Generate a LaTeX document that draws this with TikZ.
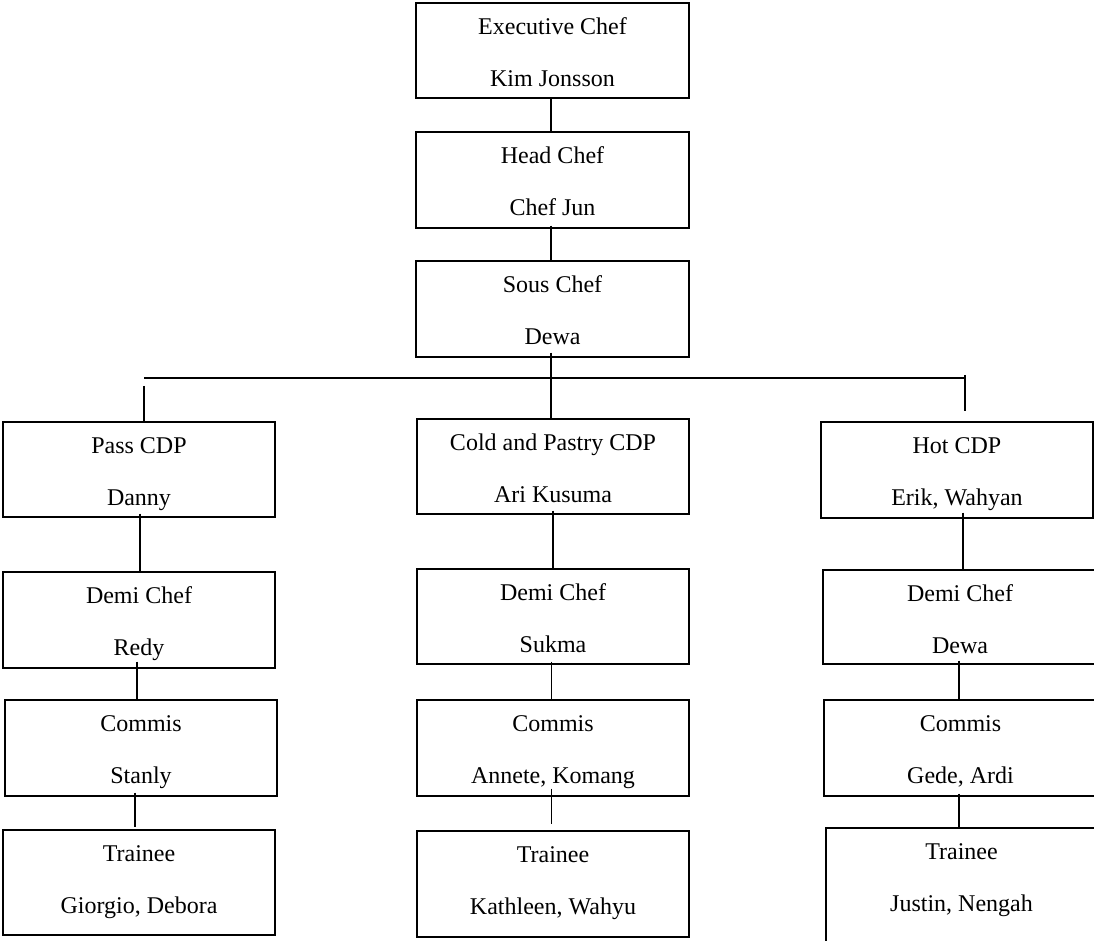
\documentclass[tikz,border=0pt]{standalone}
\usepackage{fontspec}
\setmainfont{Liberation Serif}
\usetikzlibrary{fit}
\tikzset{
  box/.style={draw=black, line width=0.7pt, rectangle, inner sep=0pt},
  lbl/.style={inner sep=0pt, anchor=base, font=\fontsize{12}{14}\selectfont},
  conn/.style={draw=black, line width=0.7pt}
}
\newcommand\orgbox[7]{%
  \node[box, fit={(#2,#3) (#4,#5)}] (#1) {};
  \node[lbl] (#1t) at ([yshift=-16pt]#1.north) {#6};
  \node[lbl] (#1n) at ([yshift=-42pt]#1.north) {#7};
}
\newcommand\link[5]{%
  \draw[conn] ([xshift=#3,yshift=#4]#1.south) -- ([xshift=#3,yshift=#5]#1.south |- #2.north);
}
\begin{document}
\begin{tikzpicture}[x=0.5pt, y=-0.5pt]
\path[use as bounding box, clip] (0,0) rectangle (1094,941);
\fill[white] (0,0) rectangle (1094,941);
% top chain
\orgbox{ex}{416}{3}{689}{98}{Executive Chef}{Kim Jonsson}
\orgbox{hc}{416}{132}{689}{228}{Head Chef}{Chef Jun}
\orgbox{sc}{416}{261}{689}{357}{Sous Chef}{Dewa}
% CDP row
\orgbox{pass}{3}{422}{275}{517}{Pass CDP}{Danny}
\orgbox{cold}{417}{419}{689}{514}{Cold and Pastry CDP}{Ari Kusuma}
\orgbox{hot}{821}{422}{1093}{518}{Hot CDP}{Erik, Wahyan}
% Demi chef row
\orgbox{da}{3}{572}{275}{668}{Demi Chef}{Redy}
\orgbox{db}{417}{569}{689}{664}{Demi Chef}{Sukma}
\orgbox{dc}{823}{570}{1097}{664}{Demi Chef}{Dewa}
% Commis row
\orgbox{ca}{5}{700}{277}{796}{Commis}{Stanly}
\orgbox{cb}{417}{700}{689}{796}{Commis}{Annete, Komang}
\orgbox{cc}{824}{700}{1097}{796}{Commis}{Gede, Ardi}
% Trainee row
\orgbox{ta}{3}{830}{275}{935}{Trainee}{Giorgio, Debora}
\orgbox{tb}{417}{831}{689}{937}{Trainee}{Kathleen, Wahyu}
\orgbox{tc}{826}{828}{1097}{960}{Trainee}{Justin, Nengah}
% connectors top chain
\link{ex}{hc}{-0.75pt}{0.5pt}{0pt}
\link{hc}{sc}{-0.75pt}{1.5pt}{0pt}
\link{sc}{cold}{-0.75pt}{2.5pt}{0pt}
% branch line
\coordinate (bl) at (144,378);
\coordinate (br) at (965,378);
\draw[conn] (bl) -- (br);
\draw[conn] ([yshift=-4pt]bl) -- (bl |- pass.north);
\draw[conn] ([yshift=1.5pt]br) -- ([yshift=5pt]br |- hot.north);
% columns
\link{pass}{da}{0.5pt}{2pt}{0pt}
\link{cold}{db}{0pt}{2pt}{0pt}
\link{hot}{dc}{3pt}{3pt}{0pt}
\link{da}{ca}{-1pt}{3.5pt}{0pt}
\link{db}{cb}{-0.75pt}{1.5pt}{0pt}
\link{dc}{cc}{-0.5pt}{2pt}{0pt}
\link{ca}{ta}{-3pt}{2pt}{1pt}
\link{cb}{tb}{-0.75pt}{4pt}{3pt}
\link{cc}{tc}{-0.75pt}{1.5pt}{0pt}
\end{tikzpicture}
\end{document}
